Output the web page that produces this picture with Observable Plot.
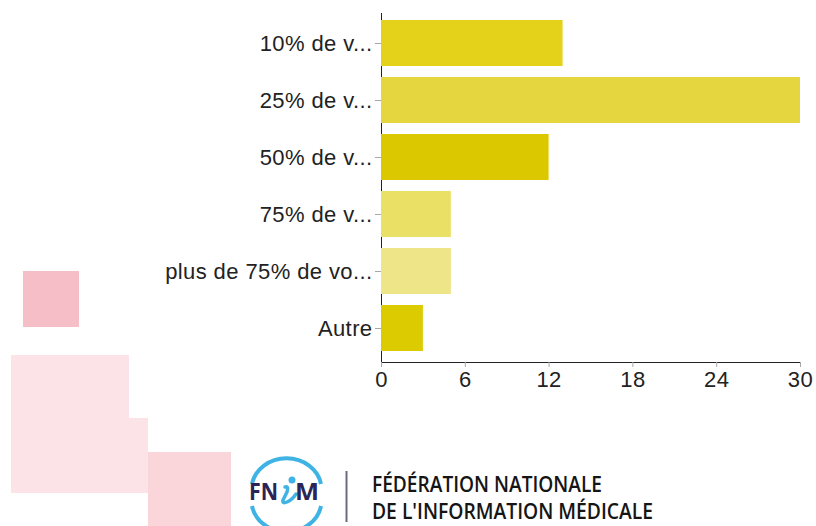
<!DOCTYPE html>
<html>
<head>
<meta charset="utf-8">
<script src="https://cdn.jsdelivr.net/npm/d3@7"></script>
<script src="https://cdn.jsdelivr.net/npm/@observablehq/plot@0.6"></script>
<style>
  html, body { margin: 0; padding: 0; background: #fff; }
  #wrap { position: relative; width: 816px; height: 526px; overflow: hidden; }
  .deco { position: absolute; z-index: 0; }
  #chart { position: absolute; left: 0; top: 0; z-index: 1; }
  #chart svg { background: transparent; }
  #chart svg text { letter-spacing: 0.4px; }
  #chart g[aria-label^="x-axis"] path, #chart g[aria-label^="x-axis"] line,
  #chart g[aria-label^="y-axis"] path, #chart g[aria-label^="y-axis"] line { stroke: #a8a8a8; }
  #logo { position: absolute; left: 0; top: 0; z-index: 2; }
</style>
</head>
<body>
<div id="wrap">
  <div class="deco" style="left:23px;top:271px;width:56px;height:56px;background:#f6bec6;"></div>
  <div class="deco" style="left:11px;top:355px;width:118px;height:138px;background:#fbe3e7;"></div>
  <div class="deco" style="left:11px;top:418px;width:137px;height:75px;background:#fbe3e7;"></div>
  <div class="deco" style="left:148px;top:452px;width:83px;height:80px;background:#fad6db;"></div>
  <div id="chart"></div>
  <svg id="logo" width="816" height="526" xmlns="http://www.w3.org/2000/svg">
    <path d="M 252 484 A 35 31 0 0 1 321 484" fill="none" stroke="#3fb4e4" stroke-width="4"/>
    <path d="M 321 506 A 35 31 0 0 1 252 506" fill="none" stroke="#3fb4e4" stroke-width="4"/>
    <text x="249" y="500" font-family="Open Sans, Liberation Sans, sans-serif" font-weight="700" font-size="23" fill="#2b2454" textLength="29" lengthAdjust="spacingAndGlyphs">FN</text>
    <path d="M 285 487 Q 289 486 287 492 L 283 500 Q 282 504 287 502 Q 292 500 296 494" fill="none" stroke="#3fb4e4" stroke-width="3.5" stroke-linecap="round"/>
    <circle cx="292" cy="480" r="3.5" fill="#3fb4e4"/>
    <text x="295" y="500" font-family="Open Sans, Liberation Sans, sans-serif" font-weight="700" font-size="23" fill="#2b2454" textLength="24" lengthAdjust="spacingAndGlyphs">M</text>
    <line x1="346.5" y1="471" x2="346.5" y2="522" stroke="#6b6880" stroke-width="2"/>
    <text x="372" y="492" font-family="Open Sans, DejaVu Sans, sans-serif" font-weight="600" font-size="21" fill="#151515" textLength="230" lengthAdjust="spacingAndGlyphs">FÉDÉRATION NATIONALE</text>
    <text x="372" y="519" font-family="Open Sans, DejaVu Sans, sans-serif" font-weight="600" font-size="21" fill="#151515" textLength="281" lengthAdjust="spacingAndGlyphs">DE L'INFORMATION MÉDICALE</text>
  </svg>
</div>
<script>
const categories = ["10% de v...", "25% de v...", "50% de v...", "75% de v...", "plus de 75% de vo...", "Autre"];
const values = [13, 30, 12, 5, 5, 3];
const barColors = ["#e3d219", "#e5d640", "#dcc800", "#ebe066", "#ede587", "#dccb00"];
const xTicks = [0, 6, 12, 18, 24, 30];

const data = categories.map((c, i) => ({category: c, value: values[i]}));

const chart = Plot.plot({
  width: 816,
  height: 526,
  marginLeft: 381,
  marginRight: 16,
  marginTop: 13,
  marginBottom: 164,
  style: {fontFamily: "Liberation Sans, Arial, sans-serif", fontSize: "22px", color: "#222", background: "transparent"},
  x: {domain: [0, 30], ticks: xTicks, label: null, tickSize: 5, tickPadding: 4, line: true},
  y: {domain: categories, paddingInner: 0.2, paddingOuter: 0.1435, align: 0.38, label: null, tickSize: 6, tickPadding: 3, line: true},
  color: {domain: categories, range: barColors},
  marks: [
    Plot.barX(data, {x: "value", y: "category", fill: "category"})
  ]
});
document.getElementById("chart").appendChild(chart);
</script>
</body>
</html>
